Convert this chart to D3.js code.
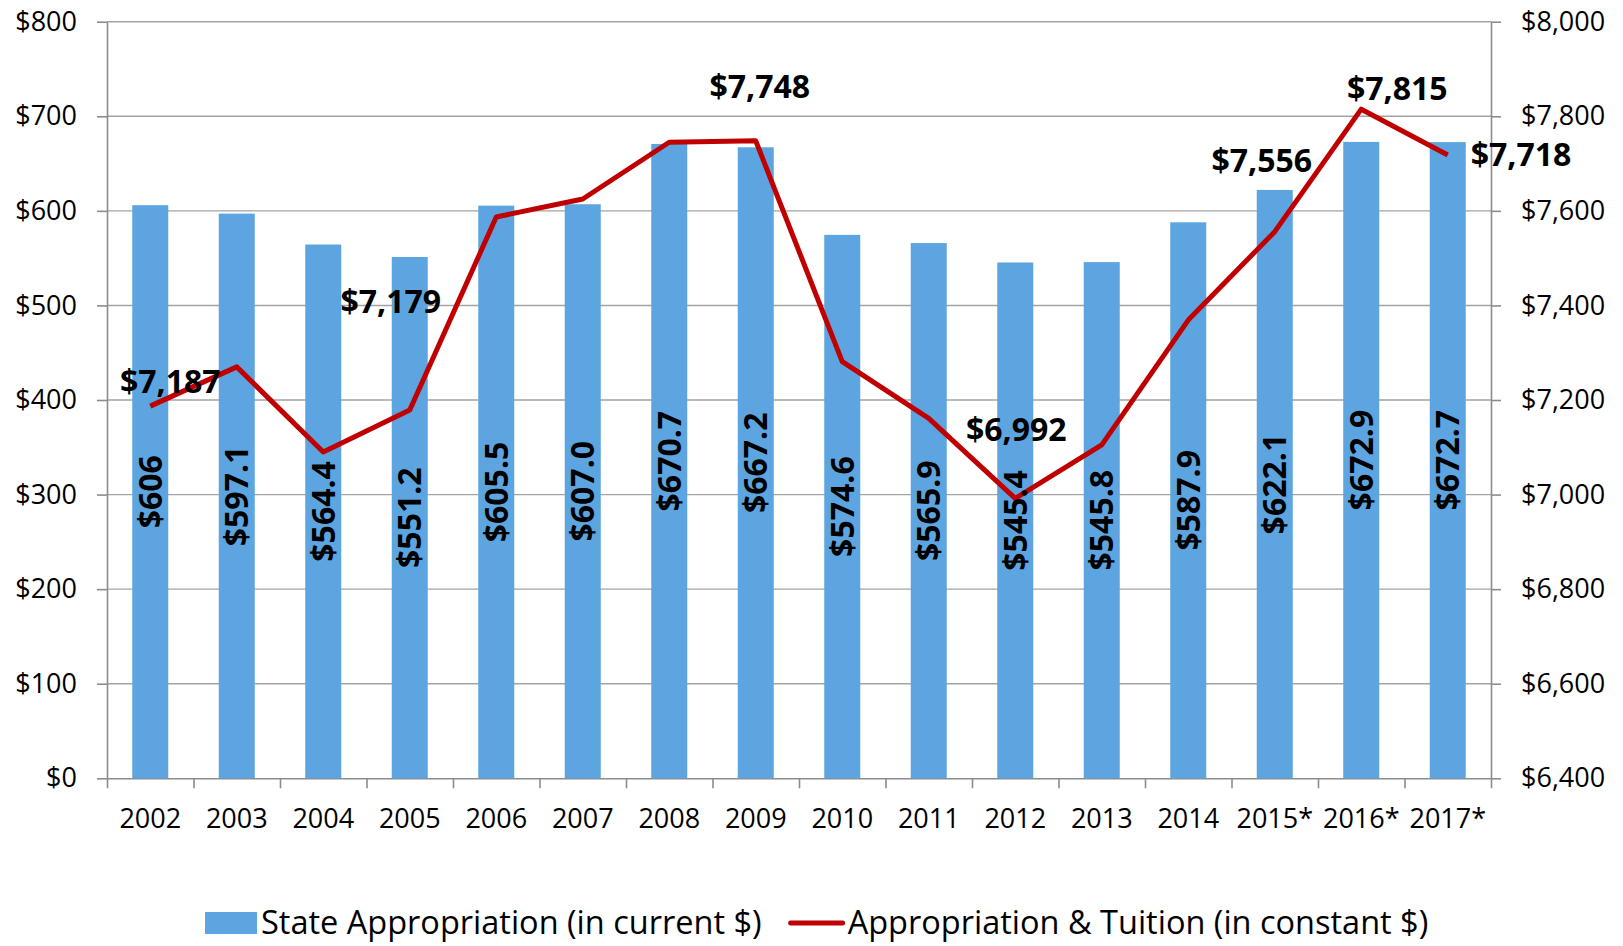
<!DOCTYPE html>
<html>
<head>
<meta charset="utf-8">
<script src="https://cdn.jsdelivr.net/npm/d3@7"></script>
<style>
  body { margin: 0; background: #fff; }
  svg text { font-family: "Open Sans", sans-serif; fill: #000; }
</style>
</head>
<body>
<svg width="1623" height="946"></svg>
<script>
// Chart data
const years = ["2002", "2003", "2004", "2005", "2006", "2007", "2008", "2009",
  "2010", "2011", "2012", "2013", "2014", "2015*", "2016*", "2017*"];
const appropriation = [606, 597.1, 564.4, 551.2, 605.5, 607.0, 670.7, 667.2,
  574.6, 565.9, 545.4, 545.8, 587.9, 622.1, 672.9, 672.7];
const appropriationLabels = ["$606", "$597.1", "$564.4", "$551.2", "$605.5", "$607.0",
  "$670.7", "$667.2", "$574.6", "$565.9", "$545.4", "$545.8", "$587.9", "$622.1",
  "$672.9", "$672.7"];
const constantTotal = [7187, 7270, 7090, 7179, 7587, 7625, 7745, 7748,
  7281, 7161, 6992, 7105, 7369, 7556, 7815, 7718];
const labelledYears = ["2002", "2005", "2009", "2012", "2015*", "2016*", "2017*"];
const leftTicks = [0, 100, 200, 300, 400, 500, 600, 700, 800];
const rightTicks = [6400, 6600, 6800, 7000, 7200, 7400, 7600, 7800, 8000];
const legendNames = ["State Appropriation (in current $)", "Appropriation & Tuition (in constant $)"];

// where each line label sits relative to its point
const labelPlace = {
  "2002": { dx: 20, dy: -13, anchor: "middle" },
  "2005": { dx: -19, dy: -97, anchor: "middle" },
  "2009": { dx: 4, dy: -43, anchor: "middle" },
  "2012": { dx: 1, dy: -57, anchor: "middle" },
  "2015*": { dx: -13, dy: -60, anchor: "middle" },
  "2016*": { dx: 36, dy: -9, anchor: "middle" },
  "2017*": { dx: 23, dy: 11, anchor: "start" }
};

const svg = d3.select("svg");
const margin = { left: 107, right: 1491, top: 21.7, bottom: 778.3 };
const gridColor = "#a3a3a3", axisColor = "#8c8c8c";
const blue = "#5da5e0", red = "#c00000";

const x = d3.scaleBand().domain(years).range([margin.left, margin.right]);
const yL = d3.scaleLinear().domain([0, 800]).range([margin.bottom, margin.top]);
const yR = d3.scaleLinear().domain([6400, 8000]).range([margin.bottom, margin.top]);
const xEdge = d3.scaleLinear().domain([0, years.length]).range([margin.left, margin.right]);

// horizontal gridlines
svg.append("g")
  .selectAll("line")
  .data(leftTicks.filter(d => d > 0))
  .join("line")
  .attr("x1", margin.left).attr("x2", margin.right)
  .attr("y1", d => yL(d)).attr("y2", d => yL(d))
  .attr("stroke", gridColor).attr("stroke-width", 1.4);

// left axis
const gl = svg.append("g")
  .attr("transform", `translate(${margin.left},0)`)
  .call(d3.axisLeft(yL).tickValues(leftTicks).tickFormat(d => "$" + d)
    .tickSize(10).tickPadding(20).tickSizeOuter(0));

// right axis
const gr = svg.append("g")
  .attr("transform", `translate(${margin.right},0)`)
  .call(d3.axisRight(yR).tickValues(rightTicks).tickFormat(d => "$" + d3.format(",")(d))
    .tickSize(10).tickPadding(20).tickSizeOuter(0));

// bottom tick marks at category edges
svg.append("g")
  .attr("transform", `translate(0,${margin.bottom})`)
  .call(d3.axisBottom(xEdge).tickValues(d3.range(years.length + 1)).tickFormat("")
    .tickSize(10).tickSizeOuter(0));

// category labels
const gx = svg.append("g")
  .attr("transform", `translate(0,${margin.bottom})`)
  .call(d3.axisBottom(x).tickSize(0).tickPadding(31));
gx.select(".domain").remove();

[gl, gr, gx].forEach(g => {
  g.selectAll("text").style("font-size", "27px").attr("fill", "#000");
});
svg.selectAll(".domain").attr("stroke", axisColor).attr("stroke-width", 1.6);
svg.selectAll(".tick line").attr("stroke", axisColor).attr("stroke-width", 1.6);

// bars
const barW = 36;
svg.append("g")
  .selectAll("rect")
  .data(years)
  .join("rect")
  .attr("x", d => x(d) + x.bandwidth() / 2 - barW / 2)
  .attr("width", barW)
  .attr("y", (d, i) => yL(appropriation[i]))
  .attr("height", (d, i) => margin.bottom - yL(appropriation[i]))
  .attr("fill", blue);

// line
const line = d3.line()
  .x((d, i) => x(years[i]) + x.bandwidth() / 2)
  .y(d => yR(d));
svg.append("path")
  .datum(constantTotal)
  .attr("d", line)
  .attr("fill", "none")
  .attr("stroke", red)
  .attr("stroke-width", 5)
  .attr("stroke-linejoin", "round");

// bar labels, rotated, centred in bar
svg.append("g")
  .selectAll("text")
  .data(years)
  .join("text")
  .attr("transform", (d, i) => {
    const cx = x(d) + x.bandwidth() / 2;
    const cy = (yL(appropriation[i]) + margin.bottom) / 2;
    return `translate(${cx},${cy}) rotate(-90)`;
  })
  .attr("text-anchor", "middle")
  .attr("dy", "0.36em")
  .style("font-size", "32px")
  .style("font-weight", "bold")
  .text((d, i) => appropriationLabels[i]);

// line labels
svg.append("g")
  .selectAll("text")
  .data(labelledYears)
  .join("text")
  .attr("x", d => x(d) + x.bandwidth() / 2 + labelPlace[d].dx)
  .attr("y", d => yR(constantTotal[years.indexOf(d)]) + labelPlace[d].dy)
  .attr("text-anchor", d => labelPlace[d].anchor)
  .style("font-size", "32px")
  .style("font-weight", "bold")
  .text(d => "$" + d3.format(",")(constantTotal[years.indexOf(d)]));

// legend
const legend = svg.append("g").attr("transform", "translate(205,922)");
legend.append("rect")
  .attr("x", 0).attr("y", -10).attr("width", 52).attr("height", 22)
  .attr("fill", blue);
const t1 = legend.append("text")
  .attr("x", 56).attr("dy", "0.36em")
  .style("font-size", "32.5px")
  .text(legendNames[0]);
const x2 = 56 + t1.node().getComputedTextLength() + 27;
legend.append("line")
  .attr("x1", x2 + 2).attr("x2", x2 + 54)
  .attr("y1", 1).attr("y2", 1)
  .attr("stroke", red).attr("stroke-width", 5).attr("stroke-linecap", "round");
legend.append("text")
  .attr("x", x2 + 59).attr("dy", "0.36em")
  .style("font-size", "32.5px")
  .text(legendNames[1]);
</script>
</body>
</html>
